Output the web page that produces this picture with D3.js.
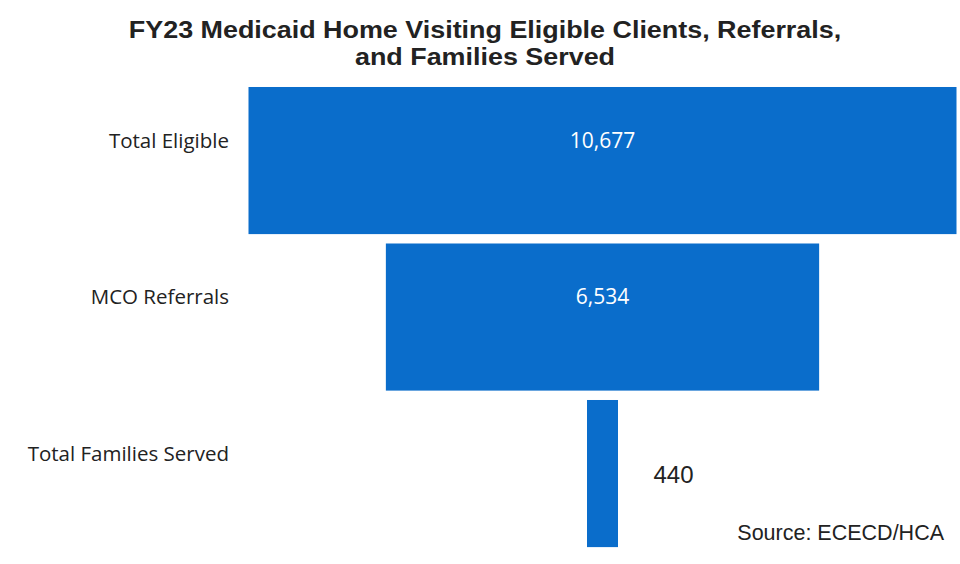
<!DOCTYPE html>
<html>
<head>
<meta charset="utf-8">
<script src="https://cdn.jsdelivr.net/npm/d3@7"></script>
<style>
  body { margin: 0; background: #fff; }
</style>
</head>
<body>
<svg id="chart" width="960" height="564"></svg>
<script>
const categories = ["Total Eligible", "MCO Referrals", "Total Families Served"];
const values = [10677, 6534, 440];
const titleLines = ["FY23 Medicaid Home Visiting Eligible Clients, Referrals,", "and Families Served"];
const source = "Source: ECECD/HCA";

const svg = d3.select("#chart");
const cx = 602.5; // funnel centre line

// width scale for the bars
const w = d3.scaleLinear().domain([0, d3.max(values)]).range([0, 708]);
const y = d3.scaleBand().domain(categories).range([82.3, 551.8])
  .paddingInner(0.06).paddingOuter(0.03);

// title - the original is a bit stretched horizontally
svg.append("text")
  .attr("text-anchor", "middle")
  .style("font-family", "'Liberation Sans', Arial, sans-serif")
  .style("font-weight", "bold").style("font-size", "23px").style("fill", "#222")
  .attr("transform", "translate(485,38) scale(1.17,1)")
  .selectAll("tspan").data(titleLines).join("tspan")
    .attr("x", 0).attr("y", (d, i) => i * 27)
    .text(d => d);

// bars
svg.selectAll("rect.bar").data(values).join("rect")
  .attr("class", "bar")
  .attr("x", d => cx - Math.max(w(d), 31) / 2)
  .attr("y", (d, i) => y(categories[i]))
  .attr("width", d => Math.max(w(d), 31))
  .attr("height", y.bandwidth())
  .attr("fill", "#0a6dcb");

// category labels (sit a bit above the band centre)
svg.selectAll("text.cat").data(categories).join("text")
  .attr("class", "cat")
  .attr("x", 229)
  .attr("y", d => y(d) + y.bandwidth() / 2 - 20)
  .attr("dy", "0.35em")
  .attr("text-anchor", "end")
  .style("font-family", "'Open Sans', sans-serif")
  .style("font-size", "20.5px").style("fill", "#222")
  .text(d => d);

// value labels: inside the big bars, outside the small one
const fmt = d3.format(",");
svg.selectAll("text.val").data(values).join("text")
  .attr("class", "val")
  .attr("x", d => w(d) > 100 ? cx : cx + 51)
  .attr("y", (d, i) => y(categories[i]) + y.bandwidth() / 2 + (w(d) > 100 ? -20 : 1))
  .attr("dy", "0.35em")
  .attr("text-anchor", d => w(d) > 100 ? "middle" : "start")
  .style("font-family", d => w(d) > 100 ? "'Open Sans', sans-serif" : "'Liberation Sans', Arial, sans-serif")
  .style("font-size", d => w(d) > 100 ? "21px" : "24px")
  .style("fill", d => w(d) > 100 ? "#fff" : "#222")
  .text(d => fmt(d));

// source note
svg.append("text")
  .attr("x", 944).attr("y", 540)
  .attr("text-anchor", "end")
  .style("font-family", "'Liberation Sans', Arial, sans-serif")
  .style("font-size", "21.5px").style("fill", "#222")
  .text(source);
</script>
</body>
</html>
